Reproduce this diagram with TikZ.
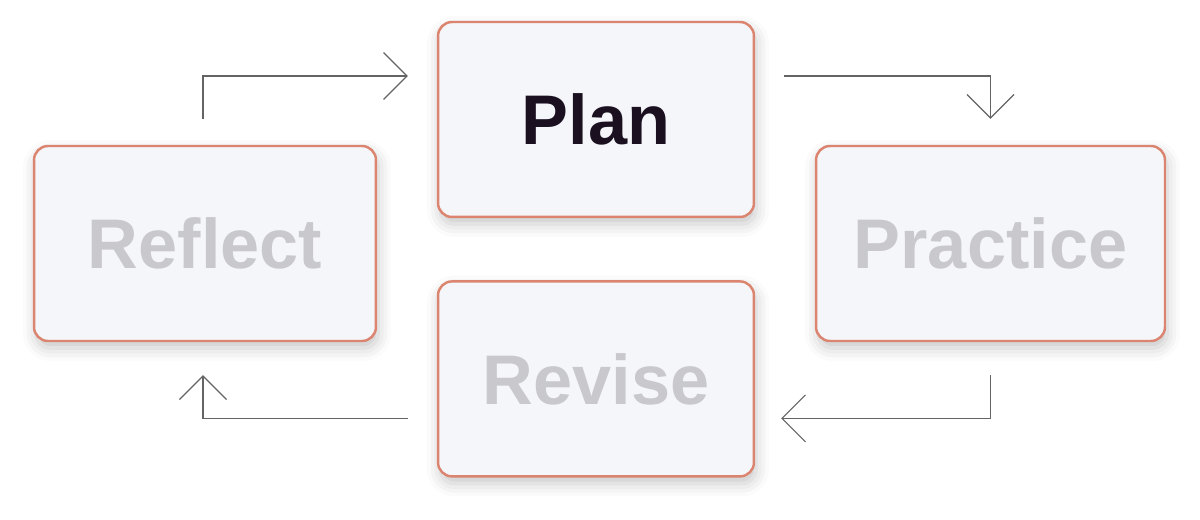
\documentclass[tikz,border=0pt]{standalone}
\usepackage{fontspec}
\setmainfont{Liberation Sans}
\usepackage{xcolor}
\usetikzlibrary{arrows.meta,positioning,shadows.blur}
\definecolor{boxedge}{RGB}{219,133,112}
\definecolor{boxfill}{RGB}{245,246,250}
\definecolor{fadetext}{RGB}{200,200,205}
\definecolor{maintext}{RGB}{26,16,32}
\definecolor{linkgrey}{RGB}{100,100,100}

\begin{document}
\begin{tikzpicture}[
    x=0.02cm, y=-0.02cm,
    stage/.style={rectangle, rounded corners=0.28cm, draw=boxedge, line width=1.4pt,
                  fill=boxfill, minimum height=3.9cm, text centered,
                  font=\fontsize{40}{45}\selectfont\bfseries, text=#1,
                  blur shadow={shadow xshift=0.04cm, shadow yshift=-0.14cm,
                               shadow blur radius=0.26cm, shadow opacity=22}},
    link/.style={-{Straight Barb[length=0.47cm, width=0.94cm]}, draw=linkgrey, line width=0.65pt},
    node distance=1.24cm
]
\useasboundingbox (0,0) rectangle (1200,520);
\node[stage=maintext, minimum width=6.32cm] (plan) at (596,119.5) {Plan};
\node[stage=fadetext, minimum width=6.32cm, below=of plan] (revise) {Revise};
\node[stage=fadetext, minimum width=6.84cm] (reflect) at (205,243.5) {Reflect};
\node[stage=fadetext, minimum width=6.98cm] (practice) at (990.5,243.5) {Practice};
\draw[link, shorten <=0.52cm, shorten >=0.58cm] ([xshift=-0.04cm]reflect.north) |- ([yshift=0.87cm]plan.west);
\draw[link, shorten <=0.58cm, shorten >=0.52cm] ([yshift=0.87cm]plan.east) -| (practice.north);
\draw[link, shorten <=0.66cm, shorten >=0.52cm] (practice.south) |- ([yshift=-0.79cm]revise.east);
\draw[link, shorten <=0.58cm, shorten >=0.66cm] ([yshift=-0.79cm]revise.west) -| ([xshift=-0.04cm]reflect.south);
\end{tikzpicture}
\end{document}
